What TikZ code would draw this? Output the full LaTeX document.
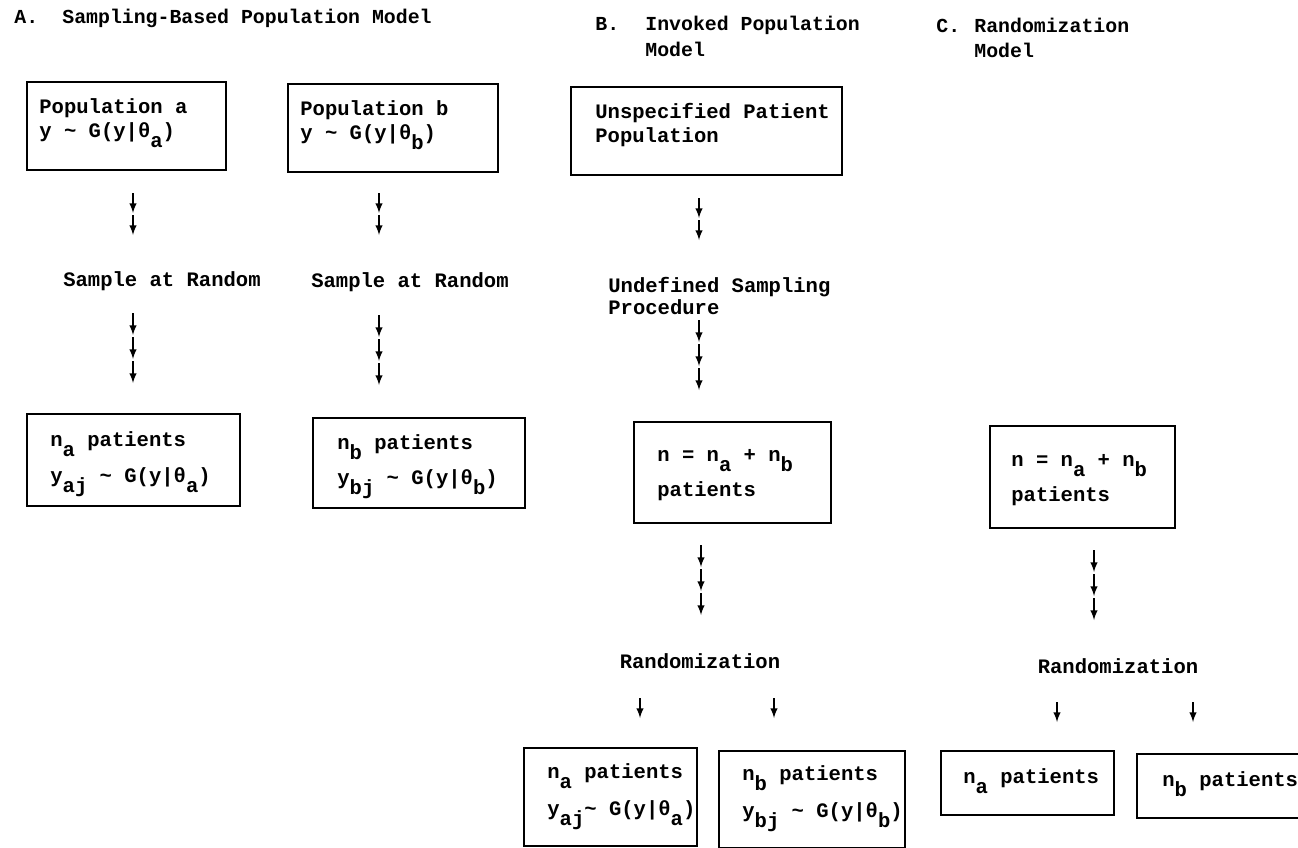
\documentclass[tikz,border=0pt]{standalone}
\usepackage{fontspec}
\setmainfont{Liberation Mono}
\newcommand{\lo}[1]{\raisebox{-1.0ex}{#1}}

\begin{document}
\begin{tikzpicture}[x=0.02cm, y=-0.02cm,
    every node/.style={font=\fontsize{11.7}{14}\selectfont\bfseries, inner sep=0pt},
    txt/.style={anchor=base west},
    ttl/.style={anchor=base west, font=\fontsize{11.3}{14}\selectfont\bfseries},
    mid/.style={anchor=base},
    box/.style={draw, line width=1.3pt, anchor=north west, inner sep=0pt},
    arr/.style={-latex, line width=0.9pt}]
    \useasboundingbox (0,0) rectangle (1298,848);
    % Titles
    \node[ttl] (tA) at (14,24) {A.};
    \node[ttl] (tA2) at (62,24) {Sampling-Based Population Model};
    \node[ttl] (tB) at (595,31) {B.};
    \node[ttl] (tB2) at (645,31) {Invoked Population};
    \node[ttl] (tB3) at (645,57) {Model};
    \node[ttl] (tC) at (936,33) {C.};
    \node[ttl] (tC2) at (974,33) {Randomization};
    \node[ttl] (tC3) at (974,58) {Model};
    % Boxes
    \node[box, minimum width=3.98cm, minimum height=1.76cm] (popa) at (26,81) {};
    \node[box, minimum width=4.20cm, minimum height=1.76cm] (popb) at (287,83) {};
    \node[box, minimum width=5.42cm, minimum height=1.76cm] (unsp) at (570,86) {};
    \node[box, minimum width=4.26cm, minimum height=1.84cm] (sa) at (26,413) {};
    \node[box, minimum width=4.24cm, minimum height=1.80cm] (sb) at (312,417) {};
    \node[box, minimum width=3.94cm, minimum height=2.02cm] (nB) at (633,421) {};
    \node[box, minimum width=3.70cm, minimum height=2.04cm] (nC) at (989,425) {};
    \node[box, minimum width=3.46cm, minimum height=1.96cm] (Ba) at (523,747) {};
    \node[box, minimum width=3.72cm, minimum height=1.94cm] (Bb) at (718,750) {};
    \node[box, minimum width=3.46cm, minimum height=1.28cm] (Ca) at (940,750) {};
    \node[box, minimum width=4.00cm, minimum height=1.28cm] (Cb) at (1136,753) {};
    % Box texts
    \node[txt] (popa1) at (39,113) {Population a};
    \node[txt] (popa2) at (39,137) {y \textasciitilde{} G(y|θ\lo{a})};
    \node[txt] (popb1) at (300,115) {Population b};
    \node[txt] (popb2) at (300,139) {y \textasciitilde{} G(y|θ\lo{b})};
    \node[txt] (unsp1) at (595,118) {Unspecified Patient};
    \node[txt] (unsp2) at (595,142) {Population};
    \node[txt] (sa1) at (50,446) {n\lo{a} patients};
    \node[txt] (sa2) at (50,482) {y\lo{aj} \textasciitilde{} G(y|θ\lo{a})};
    \node[txt] (sb1) at (337,449) {n\lo{b} patients};
    \node[txt] (sb2) at (337,484) {y\lo{bj} \textasciitilde{} G(y|θ\lo{b})};
    \node[txt] (nB1) at (657,461) {n = n\lo{a} + n\lo{b}};
    \node[txt] (nB2) at (657,496) {patients};
    \node[txt] (nC1) at (1011,466) {n = n\lo{a} + n\lo{b}};
    \node[txt] (nC2) at (1011,501) {patients};
    \node[txt] (Ba1) at (547,778) {n\lo{a} patients};
    \node[txt] (Ba2) at (547,815) {y\lo{aj}\textasciitilde{} G(y|θ\lo{a})};
    \node[txt] (Bb1) at (742,780) {n\lo{b} patients};
    \node[txt] (Bb2) at (742,817) {y\lo{bj} \textasciitilde{} G(y|θ\lo{b})};
    \node[txt] (Ca1) at (963,783) {n\lo{a} patients};
    \node[txt] (Cb1) at (1162,786) {n\lo{b} patients};
    % Step labels
    \node[mid] (rndA) at (162,286) {Sample at Random};
    \node[mid] (rndB) at (410,287) {Sample at Random};
    \node[txt] (undef1) at (608,292) {Undefined Sampling};
    \node[txt] (undef2) at (608,314) {Procedure};
    \node[mid] (randB) at (700,668) {Randomization};
    \node[mid] (randC) at (1118,673) {Randomization};
    % Arrow stacks
    \coordinate (a1) at (133,193);
    \coordinate (b1) at (379,193);
    \coordinate (a2) at (133,313);
    \coordinate (b2) at (379,315);
    \coordinate (u1) at (699,198);
    \coordinate (u2) at (699,320);
    \coordinate (u3) at (701,545);
    \coordinate (c3) at (1094,550);
    \foreach \c in {a1,b1,u1}
    {
    \foreach \d in {0,22}
        \draw[arr] (\c) ++(0,\d) -- ++(0,20);
    }
    \foreach \c in {a2,b2,u2,u3,c3}
    {
    \foreach \d in {0,24,48}
        \draw[arr] (\c) ++(0,\d) -- ++(0,22);
    }
    % Split arrows
    \coordinate (ra) at (640,698);
    \coordinate (rb) at (774,698);
    \coordinate (rc) at (1057,702);
    \coordinate (rd) at (1193,702);
    \foreach \c in {ra,rb,rc,rd}
        \draw[arr] (\c) -- ++(0,20);
\end{tikzpicture}
\end{document}
